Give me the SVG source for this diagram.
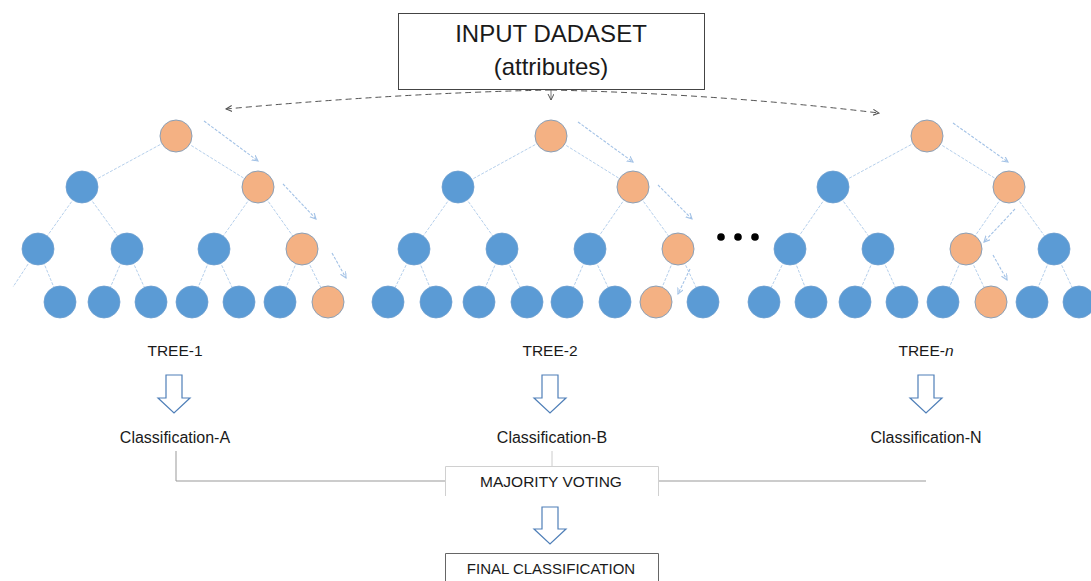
<svg xmlns="http://www.w3.org/2000/svg" width="1091" height="581" viewBox="0 0 1091 581">
<defs>
<style>
.b{fill:#5b9bd5;stroke:#6f9fcf;stroke-width:0.8}
.o{fill:#f4b183;stroke:#8aa0b8;stroke-width:1}
.e{stroke:#b6d0ec;stroke-width:1;stroke-dasharray:3 1.5;fill:none}
.p{stroke:#a3c2e6;stroke-width:1.1;stroke-dasharray:3 1.5;fill:none;marker-end:url(#pa)}
.d{stroke:#555;stroke-width:1;stroke-dasharray:6 4;fill:none;marker-end:url(#da)}
.ba{fill:#fff;stroke:#4f7fb8;stroke-width:1.2}
.t{font-family:"Liberation Sans",Arial,sans-serif;fill:#1a1a1a;text-anchor:middle}
.g{stroke:#999;stroke-width:1;fill:none}
</style>
<marker id="pa" markerWidth="8" markerHeight="8" refX="6" refY="3" orient="auto" markerUnits="userSpaceOnUse"><path d="M0,0 L6,3 L0,6" fill="none" stroke="#a3c2e6" stroke-width="1.1"/></marker>
<marker id="da" markerWidth="8" markerHeight="8" refX="6" refY="3" orient="auto" markerUnits="userSpaceOnUse"><path d="M0,0 L6,3 L0,6" fill="none" stroke="#555" stroke-width="1"/></marker>
</defs>
<rect width="1091" height="581" fill="#fff"/>

<g id="connectors">
<path class="d" d="M551,90 Q400,93 226,109"/>
<path class="d" d="M551,90 Q720,94 879,113"/>
<path d="M551,90 L551,100" stroke="#555" stroke-width="0.8" fill="none" marker-end="url(#da)"/>
<path class="e" d="M176,136 L82,187 M176,136 L258,187 M82,187 L38,249 M82,187 L127,249 M258,187 L214,249 M258,187 L302,249 M38,249 L13,287 M38,249 L60,302 M127,249 L104,302 M127,249 L151,302 M214,249 L192,302 M214,249 L239,302 M302,249 L280,302 M302,249 L328,302"/>
<path class="e" d="M551,136 L458,187 M551,136 L633,187 M458,187 L414,249 M458,187 L502,249 M633,187 L590,249 M633,187 L678,249 M414,249 L388,302 M414,249 L436,302 M502,249 L479,302 M502,249 L527,302 M590,249 L567,302 M590,249 L615,302 M678,249 L656,302 M678,249 L703,302"/>
<path class="e" d="M927,136 L833,187 M927,136 L1009,187 M833,187 L790,249 M833,187 L878,249 M1009,187 L966,249 M1009,187 L1054,249 M790,249 L764,302 M790,249 L811,302 M878,249 L855,302 M878,249 L902,302 M966,249 L943,302 M966,249 L991,302 M1054,249 L1032,302 M1054,249 L1079,302"/>
<path class="p" d="M204,121 L258,161"/>
<path class="p" d="M283,184 L316,219"/>
<path class="p" d="M332,253 L346,278"/>
<path class="p" d="M578,122 L633,162"/>
<path class="p" d="M658,185 L692,219"/>
<path class="p" d="M690,269 L678,294"/>
<path class="p" d="M953,123 L1008,162"/>
<path class="p" d="M1015,209 L984,242"/>
<path class="p" d="M993,255 L1007,280"/>
<path class="g" d="M176,451 L176,481 L445,481"/>
<path class="g" d="M658,481 L926,481"/>
<path d="M552,451 L552,466" stroke="#ccc" stroke-width="1" fill="none"/>
</g>

<g id="input-dataset">
<rect x="398.5" y="13.5" width="306" height="76" fill="#fff" stroke="#444" stroke-width="1"/>
<text class="t" x="551" y="42" font-size="24">INPUT DADASET</text>
<text class="t" x="551" y="75" font-size="24">(attributes)</text>
</g>

<g id="tree-1">
<circle class="o" cx="176" cy="136" r="16"/>
<circle class="b" cx="82" cy="187" r="16"/>
<circle class="o" cx="258" cy="187" r="16"/>
<circle class="b" cx="38" cy="249" r="16"/>
<circle class="b" cx="127" cy="249" r="16"/>
<circle class="b" cx="214" cy="249" r="16"/>
<circle class="o" cx="302" cy="249" r="16"/>
<circle class="b" cx="60" cy="302" r="16"/>
<circle class="b" cx="104" cy="302" r="16"/>
<circle class="b" cx="151" cy="302" r="16"/>
<circle class="b" cx="192" cy="302" r="16"/>
<circle class="b" cx="239" cy="302" r="16"/>
<circle class="b" cx="280" cy="302" r="16"/>
<circle class="o" cx="328" cy="302" r="16"/>
</g>

<g id="tree-2">
<circle class="o" cx="551" cy="136" r="16"/>
<circle class="b" cx="458" cy="187" r="16"/>
<circle class="o" cx="633" cy="187" r="16"/>
<circle class="b" cx="414" cy="249" r="16"/>
<circle class="b" cx="502" cy="249" r="16"/>
<circle class="b" cx="590" cy="249" r="16"/>
<circle class="o" cx="678" cy="249" r="16"/>
<circle class="b" cx="388" cy="302" r="16"/>
<circle class="b" cx="436" cy="302" r="16"/>
<circle class="b" cx="479" cy="302" r="16"/>
<circle class="b" cx="527" cy="302" r="16"/>
<circle class="b" cx="567" cy="302" r="16"/>
<circle class="b" cx="615" cy="302" r="16"/>
<circle class="o" cx="656" cy="302" r="16"/>
<circle class="b" cx="703" cy="302" r="16"/>
</g>

<g id="ellipsis">
<circle cx="721" cy="237" r="3.8" fill="#000"/>
<circle cx="738" cy="237" r="3.8" fill="#000"/>
<circle cx="755" cy="237" r="3.8" fill="#000"/>
</g>

<g id="tree-n">
<circle class="o" cx="927" cy="136" r="16"/>
<circle class="b" cx="833" cy="187" r="16"/>
<circle class="o" cx="1009" cy="187" r="16"/>
<circle class="b" cx="790" cy="249" r="16"/>
<circle class="b" cx="878" cy="249" r="16"/>
<circle class="o" cx="966" cy="249" r="16"/>
<circle class="b" cx="1054" cy="249" r="16"/>
<circle class="b" cx="764" cy="302" r="16"/>
<circle class="b" cx="811" cy="302" r="16"/>
<circle class="b" cx="855" cy="302" r="16"/>
<circle class="b" cx="902" cy="302" r="16"/>
<circle class="b" cx="943" cy="302" r="16"/>
<circle class="o" cx="991" cy="302" r="16"/>
<circle class="b" cx="1032" cy="302" r="16"/>
<circle class="b" cx="1079" cy="302" r="16"/>
</g>

<g id="result-1">
<text class="t" x="175" y="356" font-size="15.5">TREE-1</text>
<path class="ba" d="M166,375 H182 V398 H190 L174,413 L158,398 H166 Z"/>
<text class="t" x="175" y="443" font-size="16">Classification-A</text>
</g>

<g id="result-2">
<text class="t" x="550" y="356" font-size="15.5">TREE-2</text>
<path class="ba" d="M542,375 H558 V398 H566 L550,413 L534,398 H542 Z"/>
<text class="t" x="552" y="443" font-size="16">Classification-B</text>
</g>

<g id="result-n">
<text class="t" x="926" y="356" font-size="15.5">TREE-<tspan font-style="italic">n</tspan></text>
<path class="ba" d="M918,375 H934 V398 H942 L926,413 L910,398 H918 Z"/>
<text class="t" x="926" y="443" font-size="16">Classification-N</text>
</g>

<g id="majority-voting">
<path d="M445.5,496 V466.5 H658.5 V496" fill="#fff" stroke="#d0d0d0" stroke-width="1"/>
<text class="t" x="551" y="487" font-size="15.5">MAJORITY VOTING</text>
</g>

<g id="vote-arrow">
<path class="ba" d="M542,507 H558 V529 H566 L550,544 L534,529 H542 Z"/>
</g>

<g id="final-classification">
<path d="M445.5,581 V553.5 H658.5 V581" fill="#fff" stroke="#666" stroke-width="1"/>
<text class="t" x="551" y="574" font-size="15">FINAL CLASSIFICATION</text>
</g>
</svg>
